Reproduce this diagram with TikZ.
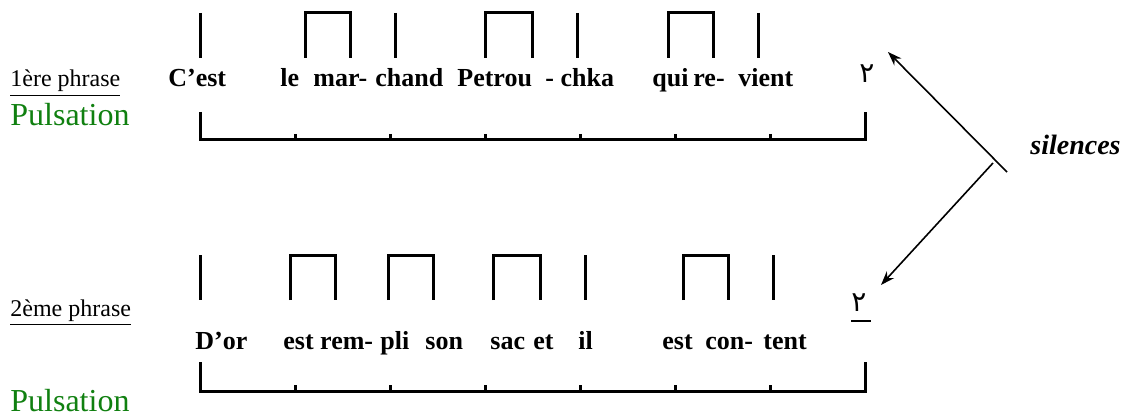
\documentclass[tikz,border=0pt]{standalone}
\usepackage{fontspec}
\setmainfont{Liberation Serif}
\newfontfamily\arabicfont[Script=Arabic]{DejaVu Sans}
\TeXXeTstate=1
\usetikzlibrary{arrows.meta}
\usepackage{xcolor}
\definecolor{pulsegreen}{RGB}{16,128,16}

\begin{document}
\begin{tikzpicture}
        [x=0.5pt, y=-0.5pt,
        word/.style = {anchor=base west, inner sep=0pt, font=\fontsize{13}{15}\selectfont\bfseries},
        phrase/.style = {anchor=base west, inner sep=0pt, font=\fontsize{12}{14}\selectfont},
        pulse/.style = {anchor=base west, inner sep=0pt, text=pulsegreen, font=\fontsize{16}{19}\selectfont},
        rest/.style = {anchor=base, inner sep=0pt, font=\fontsize{14}{17}\arabicfont},
        beat/.style = {line width=1.5pt},
        lines/.style = {line width=0.8pt, -{Stealth[length=7pt, width=5pt]}}]
        \useasboundingbox (0,0) rectangle (1125,417);

        % 1ere phrase
        \node[phrase] (P1) at (10,87) {\underline{1ère phrase}};
        \node[pulse] (L1) at (10,126) {Pulsation};
        \node[word] (A1) at (168,87) {C’est};
        \node[word] (A2) at (280,87) {le};
        \node[word] (A3) at (313,87) {mar-};
        \node[word] (A4) at (375,87) {chand};
        \node[word] (A5) at (457,87) {Petrou};
        \node[word] (A6) at (545,87) {- chka};
        \node[word] (A7) at (652,87) {qui};
        \node[word] (A8) at (693,87) {re-};
        \node[word] (A9) at (738,87) {vient};
        \node[rest] (R1) at (867,83) {\beginR ٢\endR};

        \draw[beat] (200,13) -- (200,58);
        \draw[beat] (305,58) -- (305,13) -- (350,13) -- (350,58);
        \draw[beat] (395,13) -- (395,58);
        \draw[beat] (485,58) -- (485,13) -- (532,13) -- (532,58);
        \draw[beat] (577,13) -- (577,58);
        \draw[beat] (668,58) -- (668,13) -- (713,13) -- (713,58);
        \draw[beat] (758,13) -- (758,58);

        \draw[beat] (200,112) -- (200,140) -- (865,140) -- (865,112);
        \draw[beat] (295,134) -- (295,140) (390,134) -- (390,140) (485,134) -- (485,140)
                    (580,134) -- (580,140) (675,134) -- (675,140) (770,134) -- (770,140);

        % 2eme phrase
        \node[phrase] (P2) at (10,316) {\underline{2ème phrase}};
        \node[pulse] (L2) at (10,411) {Pulsation};
        \node[word] (B1) at (195,349) {D’or};
        \node[word] (B2) at (283,349) {est rem-};
        \node[word] (B3) at (380,349) {pli};
        \node[word] (B4) at (425,349) {son};
        \node[word] (B5) at (490,349) {sac};
        \node[word] (B6) at (533,349) {et};
        \node[word] (B7) at (578,349) {il};
        \node[word] (B8) at (662,349) {est};
        \node[word] (B9) at (705,349) {con-};
        \node[word] (B10) at (763,349) {tent};
        \node[rest] (R2) at (859,311) {\beginR ٢\endR};
        \draw[line width=1pt] (851,321) -- (871,321);

        \draw[beat] (200,255) -- (200,300);
        \draw[beat] (290,300) -- (290,255) -- (335,255) -- (335,300);
        \draw[beat] (388,300) -- (388,255) -- (433,255) -- (433,300);
        \draw[beat] (493,300) -- (493,255) -- (540,255) -- (540,300);
        \draw[beat] (585,255) -- (585,300);
        \draw[beat] (683,300) -- (683,255) -- (728,255) -- (728,300);
        \draw[beat] (773,255) -- (773,300);

        \draw[beat] (200,362) -- (200,391) -- (865,391) -- (865,362);
        \draw[beat] (295,385) -- (295,391) (390,385) -- (390,391) (485,385) -- (485,391)
                    (580,385) -- (580,391) (675,385) -- (675,391) (770,385) -- (770,391);

        % silences
        \node[anchor=base west, inner sep=0pt, font=\fontsize{14}{17}\selectfont\bfseries\itshape] (S) at (1030,155) {silences};
        \coordinate (T1) at (1007,172);
        \coordinate (T2) at (993,163);
        \coordinate (H1) at (888,52);
        \coordinate (H2) at (881,285);
        \draw[lines] (T1) -- (H1);
        \draw[lines] (T2) -- (H2);
\end{tikzpicture}
\end{document}
